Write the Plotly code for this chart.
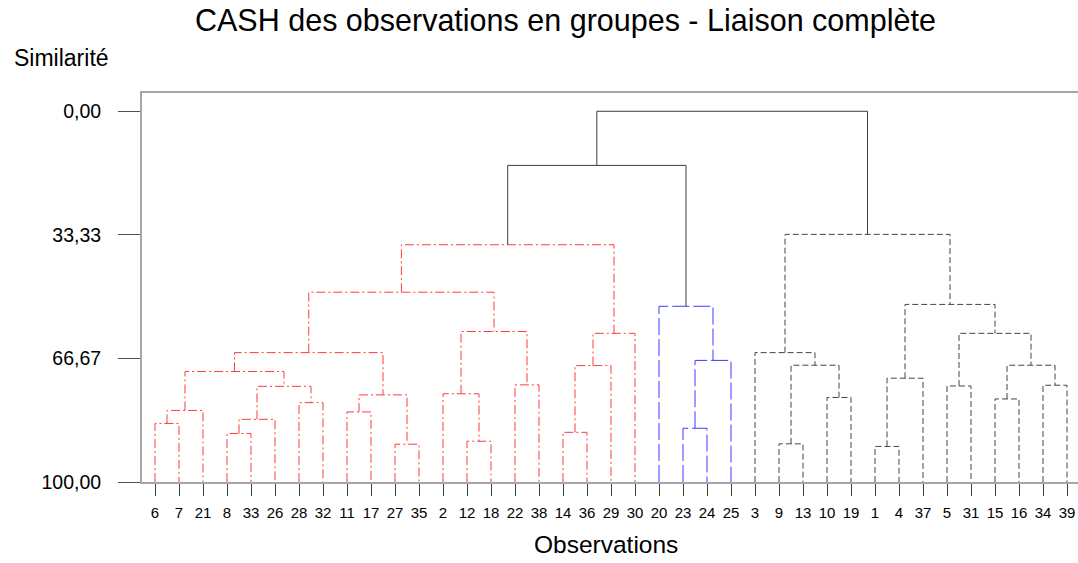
import plotly.graph_objects as go

# ---------------- data ----------------
leaf_labels = [6, 7, 21, 8, 33, 26, 28, 32, 11, 17, 27, 35, 2, 12, 18, 22, 38,
               14, 36, 29, 30, 20, 23, 24, 25, 3, 9, 13, 10, 19, 1, 4, 37, 5,
               31, 15, 16, 34, 39]

# linkage (merge k is referred to as "m<k>", leaves by their label)
merge_left = ["6", "m1", "8", "m3", "28", "m4", "m2", "11", "27", "m8", "m7",
              "12", "2", "22", "m13", "m11", "14", "m17", "m18", "m16",
              "23", "m21", "20", "m20",
              "9", "10", "m25", "3", "1", "m29", "5", "15", "34", "m32",
              "m31", "m30", "m28", "m24"]
merge_right = ["7", "21", "33", "26", "32", "m5", "m6", "17", "35", "m9", "m10",
               "18", "m12", "38", "m14", "m15", "36", "29", "30", "m19",
               "24", "25", "m22", "m23",
               "13", "19", "m26", "m27", "4", "37", "31", "16", "39", "m33",
               "m34", "m35", "m36", "m37"]
merge_similarity = [84.2, 80.7, 86.9, 83.1, 78.6, 74.2, 70.2, 81.1, 89.8, 76.5,
                    65.1, 89.0, 76.2, 73.8, 59.4, 48.8, 86.6, 68.6, 59.9, 36.0,
                    85.5, 67.2, 52.6, 14.6,
                    89.7, 77.2, 68.5, 65.1, 90.4, 72.0, 74.1, 77.6, 73.9, 68.5,
                    59.9, 52.1, 33.2, 0.0]
merge_group = ["red"] * 20 + ["blue"] * 3 + ["top"] + ["gray"] * 13 + ["top"]

y_tick_values = [0, 33.33, 66.67, 100]
y_tick_text = ["0,00", "33,33", "66,67", "100,00"]

# ---------------- styles ----------------
styles = {
    "red": dict(color="#ff3c3c", dash="9px,3px,2px,3px"),
    "blue": dict(color="#3c3cff", dash="17px,4px"),
    "gray": dict(color="#454545", dash="6px,3px"),
    "top": dict(color="#3c3c3c", dash="solid"),
}
FONT = "Liberation Sans, Arial, sans-serif"

# ---------------- build dendrogram paths ----------------
pos = {str(l): (i, 100.0) for i, l in enumerate(leaf_labels)}
paths = {g: ([], []) for g in styles}
for k, (a, b, h, g) in enumerate(zip(merge_left, merge_right, merge_similarity, merge_group), start=1):
    xa, ya = pos[a]
    xb, yb = pos[b]
    xs, ys = paths[g]
    xs += [xa, xa, xb, xb, None]
    ys += [ya, h, h, yb, None]
    pos["m%d" % k] = ((xa + xb) / 2.0, h)

fig = go.Figure()
for g, (xs, ys) in paths.items():
    fig.add_trace(go.Scatter(x=xs, y=ys, mode="lines", hoverinfo="skip",
                             line=dict(color=styles[g]["color"], width=1,
                                       dash=styles[g]["dash"]),
                             showlegend=False))

n = len(leaf_labels)
x0 = -0.542
fig.update_xaxes(range=[x0, x0 + n], tickvals=list(range(n)),
                 ticktext=[str(l) for l in leaf_labels],
                 ticks="outside", ticklen=12, tickcolor="#404040", tickwidth=1,
                 tickfont=dict(family=FONT, size=15, color="#000"),
                 showline=True, linecolor="#a6a6a6", linewidth=2, mirror=True,
                 showgrid=False, zeroline=False, ticklabelstandoff=4)
fig.update_yaxes(range=[100, -4.93], tickvals=y_tick_values, ticktext=y_tick_text,
                 ticks="outside", ticklen=22, tickcolor="#505050", tickwidth=1,
                 tickfont=dict(family=FONT, size=19.5, color="#000"),
                 showline=True, linecolor="#a6a6a6", linewidth=2, mirror=False,
                 showgrid=False, zeroline=False, ticklabelstandoff=13)

fig.update_layout(
    width=1078, height=563,
    margin=dict(l=142, r=0, t=93, b=81),
    paper_bgcolor="white", plot_bgcolor="white",
    font=dict(family=FONT, color="#000"),
    hovermode=False,
    annotations=[
        dict(text="CASH des observations en groupes - Liaison complète",
             xref="paper", yref="paper", x=0.452, y=1.187, showarrow=False,
             xanchor="center", yanchor="middle", font=dict(size=30.5, family=FONT)),
        dict(text="Similarité", xref="paper", yref="paper", x=-0.0865, y=1.089,
             showarrow=False, xanchor="center", yanchor="middle",
             font=dict(size=23, family=FONT)),
        dict(text="Observations", xref="paper", yref="paper", x=0.4957, y=-0.1618,
             showarrow=False, xanchor="center", yanchor="middle",
             font=dict(size=24.5, family=FONT)),
    ],
)

fig.write_html("out.html", config={"displayModeBar": False},
               post_script="document.body.style.margin='0';document.body.style.overflow='hidden';")
